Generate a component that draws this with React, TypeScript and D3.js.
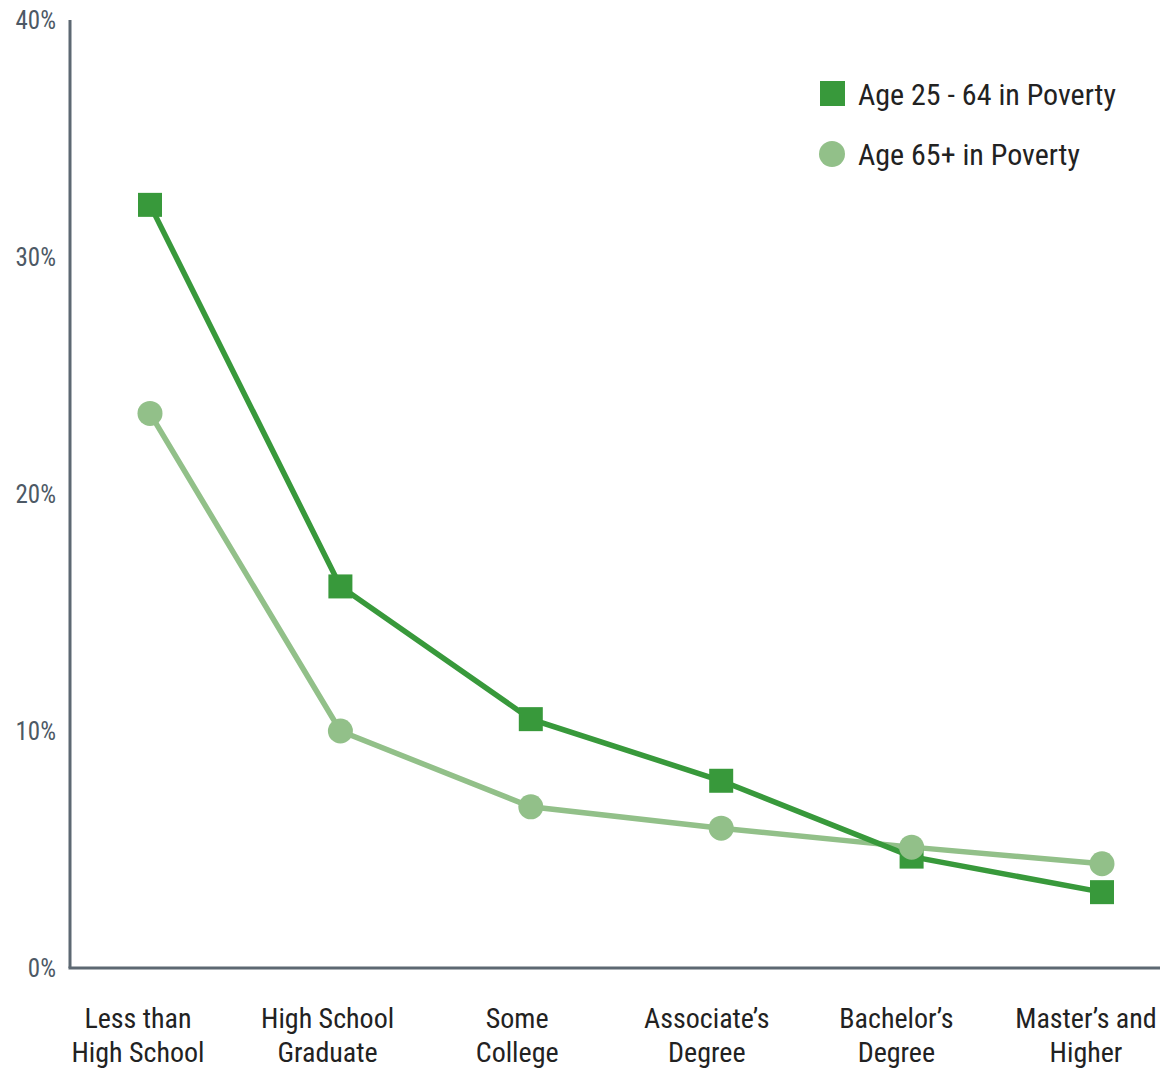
import React from "react";
import * as d3 from "d3";

const categories = [
  ["Less than", "High School"],
  ["High School", "Graduate"],
  ["Some", "College"],
  ["Associate\u2019s", "Degree"],
  ["Bachelor\u2019s", "Degree"],
  ["Master\u2019s and", "Higher"],
];
const age2564 = [32.2, 16.1, 10.5, 7.9, 4.7, 3.2];
const age65 = [23.4, 10.0, 6.8, 5.9, 5.1, 4.4];
const yTicks = [0, 10, 20, 30, 40];
const seriesNames = ["Age 25 - 64 in Poverty", "Age 65+ in Poverty"];

const W = 1162;
const H = 1069;
const DARK = "#38993b";
const LIGHT = "#92c089";
const AXIS = "#5d6872";
const FONT = "'Liberation Sans Narrow', 'Roboto Condensed', 'Arial Narrow', sans-serif";

export default function App() {
  const idx = categories.map((_, i) => i);
  const x = d3.scalePoint<number>().domain(idx).range([150, 1102]);
  const xl = d3.scalePoint<number>().domain(idx).range([138, 1086]);
  const y = d3.scaleLinear().domain([0, 40]).range([968, 20]);
  const line = d3
    .line<number>()
    .x((_, i) => x(i) as number)
    .y((d) => y(d));

  return (
    <svg
      width={W}
      height={H}
      style={{ position: "absolute", left: 0, top: 0, background: "#fff" }}
    >
      {/* axes */}
      <line x1={70} x2={70} y1={y(40)} y2={y(0)} stroke={AXIS} strokeWidth={3} />
      <line x1={68.5} x2={1160} y1={y(0)} y2={y(0)} stroke={AXIS} strokeWidth={3} />
      {yTicks.map((t) => (
        <text
          key={t}
          x={56}
          y={y(t) + 9}
          textAnchor="end"
          fontFamily={FONT}
          fontSize={25}
          fill="#4d5965"
        >
          {t + "%"}
        </text>
      ))}
      {categories.map((c, i) => (
        <text
          key={i}
          textAnchor="middle"
          fontFamily={FONT}
          fontSize={28}
          fill="#222"
        >
          <tspan x={xl(i) as number} y={1028}>{c[0]}</tspan>
          <tspan x={xl(i) as number} y={1062}>{c[1]}</tspan>
        </text>
      ))}
      {/* lines */}
      <path d={line(age65) || ""} fill="none" stroke={LIGHT} strokeWidth={5.5} />
      <path d={line(age2564) || ""} fill="none" stroke={DARK} strokeWidth={5.5} />
      {age2564.map((v, i) => (
        <rect
          key={"s" + i}
          x={(x(i) as number) - 12}
          y={y(v) - 12}
          width={24}
          height={24}
          fill={DARK}
        />
      ))}
      {age65.map((v, i) => (
        <circle key={"c" + i} cx={x(i) as number} cy={y(v)} r={12.5} fill={LIGHT} />
      ))}
      {/* legend */}
      <rect x={820} y={81} width={25} height={25} fill={DARK} />
      <text x={858} y={105} fontFamily={FONT} fontSize={30} fill="#222">
        {seriesNames[0]}
      </text>
      <circle cx={832} cy={154} r={13} fill={LIGHT} />
      <text x={858} y={165} fontFamily={FONT} fontSize={30} fill="#222">
        {seriesNames[1]}
      </text>
    </svg>
  );
}
